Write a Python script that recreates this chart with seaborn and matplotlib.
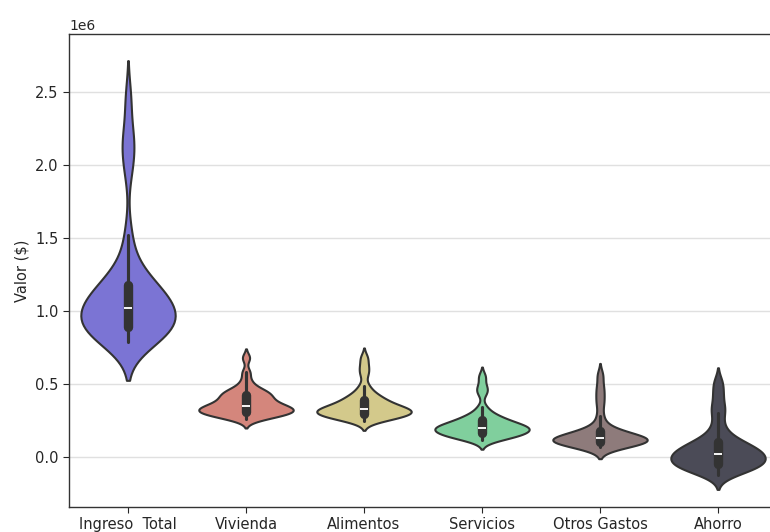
import pandas as pd
import numpy as np
import matplotlib
matplotlib.use("Agg")
import matplotlib.pyplot as plt
import seaborn as sns

# ============================================================
# Data (values in millions)
# ============================================================
categorias = ['Ingreso  Total', 'Vivienda', 'Alimentos', 'Servicios', 'Otros Gastos', 'Ahorro']

ingreso_total = [0.79, 0.81, 0.82, 0.83, 0.84, 0.85, 0.86, 0.87, 0.88, 0.90, 0.92, 0.94,
                 0.96, 0.98, 0.99, 1.00, 1.01, 1.02, 1.03, 1.05, 1.07, 1.09, 1.11, 1.13,
                 1.15, 1.17, 1.19, 1.22, 1.27, 1.35, 1.52, 1.98, 2.12, 2.20, 2.45]
vivienda = [0.26, 0.27, 0.28, 0.29, 0.29, 0.30, 0.30, 0.31, 0.31, 0.32, 0.32, 0.33,
            0.33, 0.34, 0.34, 0.35, 0.35, 0.36, 0.37, 0.38, 0.39, 0.40, 0.41, 0.42,
            0.43, 0.44, 0.45, 0.46, 0.48, 0.52, 0.58, 0.68]
alimentos = [0.25, 0.26, 0.27, 0.27, 0.28, 0.28, 0.29, 0.29, 0.30, 0.30, 0.31, 0.31,
             0.32, 0.32, 0.32, 0.33, 0.33, 0.34, 0.34, 0.35, 0.36, 0.37, 0.38, 0.39,
             0.40, 0.41, 0.43, 0.45, 0.49, 0.57, 0.62, 0.68]
servicios = [0.12, 0.13, 0.14, 0.14, 0.15, 0.15, 0.16, 0.16, 0.17, 0.18, 0.18, 0.19,
             0.19, 0.20, 0.20, 0.20, 0.21, 0.21, 0.22, 0.22, 0.23, 0.24, 0.25, 0.26,
             0.27, 0.28, 0.30, 0.34, 0.44, 0.48, 0.55]
otros_gastos = [0.07, 0.08, 0.08, 0.09, 0.09, 0.10, 0.10, 0.10, 0.11, 0.11, 0.11, 0.12,
                0.12, 0.12, 0.13, 0.13, 0.13, 0.14, 0.14, 0.15, 0.16, 0.17, 0.18, 0.19,
                0.22, 0.28, 0.36, 0.42, 0.48, 0.56]
ahorro = [-0.12, -0.10, -0.09, -0.08, -0.07, -0.06, -0.05, -0.05, -0.04, -0.03, -0.02,
          -0.01, 0.00, 0.01, 0.01, 0.02, 0.03, 0.04, 0.05, 0.06, 0.07, 0.08, 0.09,
          0.11, 0.13, 0.16, 0.22, 0.30, 0.35, 0.43, 0.51]

colores = ['#7b74d4', '#d4867c', '#d3c98b', '#80cf9d', '#8e7b7b', '#4b4b57']

series = [ingreso_total, vivienda, alimentos, servicios, otros_gastos, ahorro]
df = pd.DataFrame({
    'Categoria': np.repeat(categorias, [len(s) for s in series]),
    'Valor': np.concatenate(series) * 1e6,
})

# ============================================================
# Plot
# ============================================================
sns.set_style('white')
fig = plt.figure(figsize=(7.7, 5.32), dpi=100)
ax = fig.add_axes([69 / 770, 1 - 507 / 532, 708 / 770, (507 - 34) / 532])

sns.violinplot(data=df, x='Categoria', y='Valor', hue='Categoria', palette=colores,
               order=categorias, hue_order=categorias, legend=False, saturation=1,
               density_norm='width', width=0.8, bw_adjust=0.65, linewidth=1.5,
               linecolor='#333333', ax=ax)

ax.set_ylim(-0.342e6, 2.897e6)
ax.yaxis.grid(True, color='#e0e0e0', linewidth=1)
ax.set_axisbelow(True)
ax.set_xlabel('')
ax.set_ylabel('Valor ($)', fontsize=10.5)
ax.tick_params(axis='both', labelsize=10.5, length=4, left=True, bottom=True)
for s in ax.spines.values():
    s.set_color('#333333')
    s.set_linewidth(1)

fig.savefig('out.png', dpi=100)
